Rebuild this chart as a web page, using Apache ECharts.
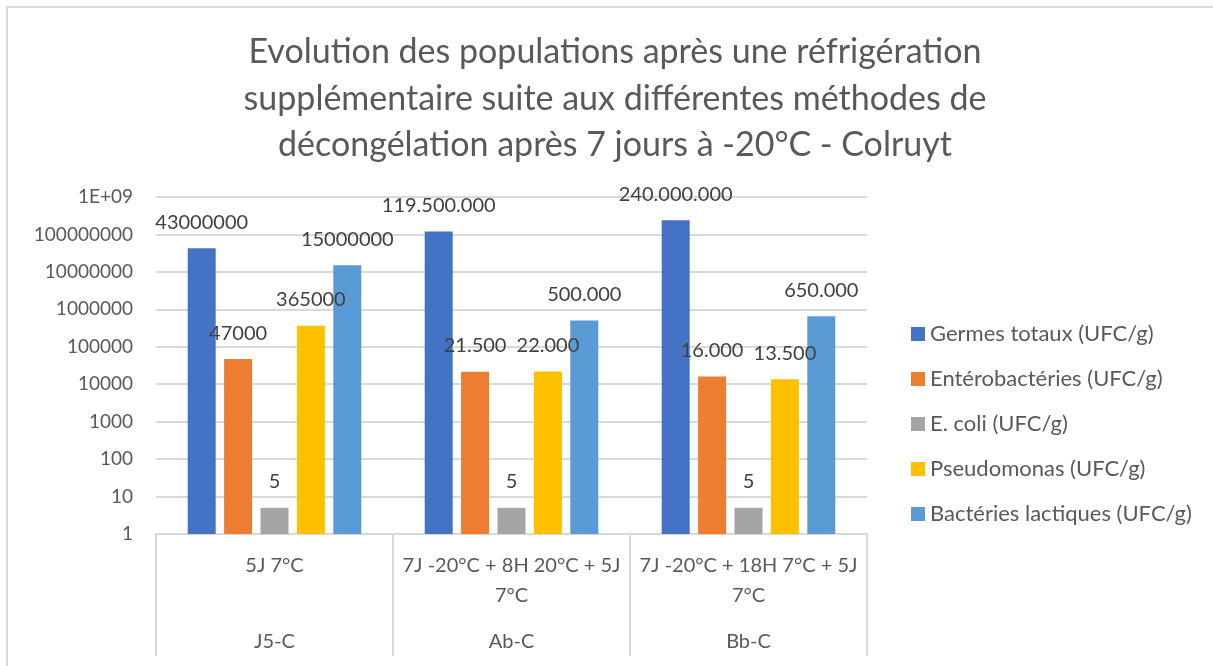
<!DOCTYPE html>
<html>
<head>
<meta charset="utf-8">
<script src="https://cdn.jsdelivr.net/npm/echarts@6/dist/echarts.min.js"></script>
<style>
    html, body { margin: 0; padding: 0; background: #fff; }
    #chart { width: 1213px; height: 666px; }
</style>
</head>
<body>
<div id="chart"></div>
<script>
const methods = ['5J 7°C', '7J -20°C + 8H 20°C + 5J\n7°C', '7J -20°C + 18H 7°C + 5J\n7°C'];
const samples = ['J5-C', 'Ab-C', 'Bb-C'];

const germesTotaux = [43000000, 119500000, 240000000];
const enterobacteries = [47000, 21500, 16000];
const eColi = [5, 5, 5];
const pseudomonas = [365000, 22000, 13500];
const bacteriesLactiques = [15000000, 500000, 650000];

// étiquettes telles qu'affichées (formats différents selon le groupe)
const germesLabels = ['43000000', '119.500.000', '240.000.000'];
const enteroLabels = ['47000', '21.500', '16.000'];
const coliLabels = ['5', '5', '5'];
const pseudoLabels = ['365000', '22.000', '13.500'];
const lactiquesLabels = ['15000000', '500.000', '650.000'];

const font = 'Lato';
const textColor = '#595959';
const gridColor = '#d9d9d9';

function makeSeries(name, data, labels, color) {
    return {
        name: name,
        type: 'bar',
        data: data,
        barWidth: 28,
        barGap: '30%',
        itemStyle: { color: color },
        label: {
            show: true,
            position: 'top',
            distance: 16,
            fontFamily: font,
            fontSize: 20,
            lineHeight: 20,
            color: '#404040',
            formatter: p => labels[p.dataIndex]
        }
    };
}

const chart = echarts.init(document.getElementById('chart'));
chart.setOption({
    animation: false,
    title: {
        text: 'Evolution des populations après une réfrigération\nsupplémentaire suite aux différentes méthodes de\ndécongélation après 7 jours à -20°C - Colruyt',
        left: 610,
        textAlign: 'center',
        top: 24,
        textStyle: {
            fontFamily: font,
            fontSize: 34,
            lineHeight: 46.5,
            fontWeight: 'normal',
            color: textColor
        }
    },
    graphic: [{
        type: 'rect',
        shape: { x: 7, y: 7, width: 1240, height: 700 },
        style: { fill: 'none', stroke: gridColor, lineWidth: 2 },
        silent: true
    }],
    legend: {
        orient: 'vertical',
        left: 906,
        top: 318,
        itemWidth: 14,
        itemHeight: 14,
        itemGap: 23,
        icon: 'rect',
        textStyle: {
            fontFamily: font,
            fontSize: 22,
            lineHeight: 22,
            color: textColor
        }
    },
    grid: {
        left: 156,
        right: 346,
        top: 197,
        bottom: 132
    },
    xAxis: [
        {
            type: 'category',
            data: methods,
            axisLine: { lineStyle: { color: gridColor, width: 2 } },
            axisTick: {
                show: true,
                interval: 0,
                length: 122,
                lineStyle: { color: gridColor, width: 2 }
            },
            axisLabel: {
                interval: 0,
                margin: 17,
                fontFamily: font,
                fontSize: 20,
                lineHeight: 30,
                color: textColor
            }
        },
        {
            type: 'category',
            data: samples,
            position: 'bottom',
            axisLine: { show: false },
            axisTick: { show: false },
            axisLabel: {
                interval: 0,
                margin: 98,
                fontFamily: font,
                fontSize: 20,
                lineHeight: 20,
                color: textColor
            }
        }
    ],
    yAxis: {
        type: 'log',
        logBase: 10,
        min: 1,
        max: 1000000000,
        axisLine: { show: false },
        axisTick: { show: false },
        splitLine: { lineStyle: { color: gridColor, width: 2 } },
        axisLabel: {
            margin: 23,
            fontFamily: font,
            fontSize: 19,
            color: textColor,
            formatter: v => (v >= 1e9 ? '1E+09' : String(Math.round(v)))
        }
    },
    series: [
        makeSeries('Germes totaux (UFC/g)', germesTotaux, germesLabels, '#4472C4'),
        makeSeries('Entérobactéries (UFC/g)', enterobacteries, enteroLabels, '#ED7D31'),
        makeSeries('E. coli (UFC/g)', eColi, coliLabels, '#A5A5A5'),
        makeSeries('Pseudomonas (UFC/g)', pseudomonas, pseudoLabels, '#FFC000'),
        makeSeries('Bactéries lactiques (UFC/g)', bacteriesLactiques, lactiquesLabels, '#5B9BD5')
    ]
});
</script>
</body>
</html>
